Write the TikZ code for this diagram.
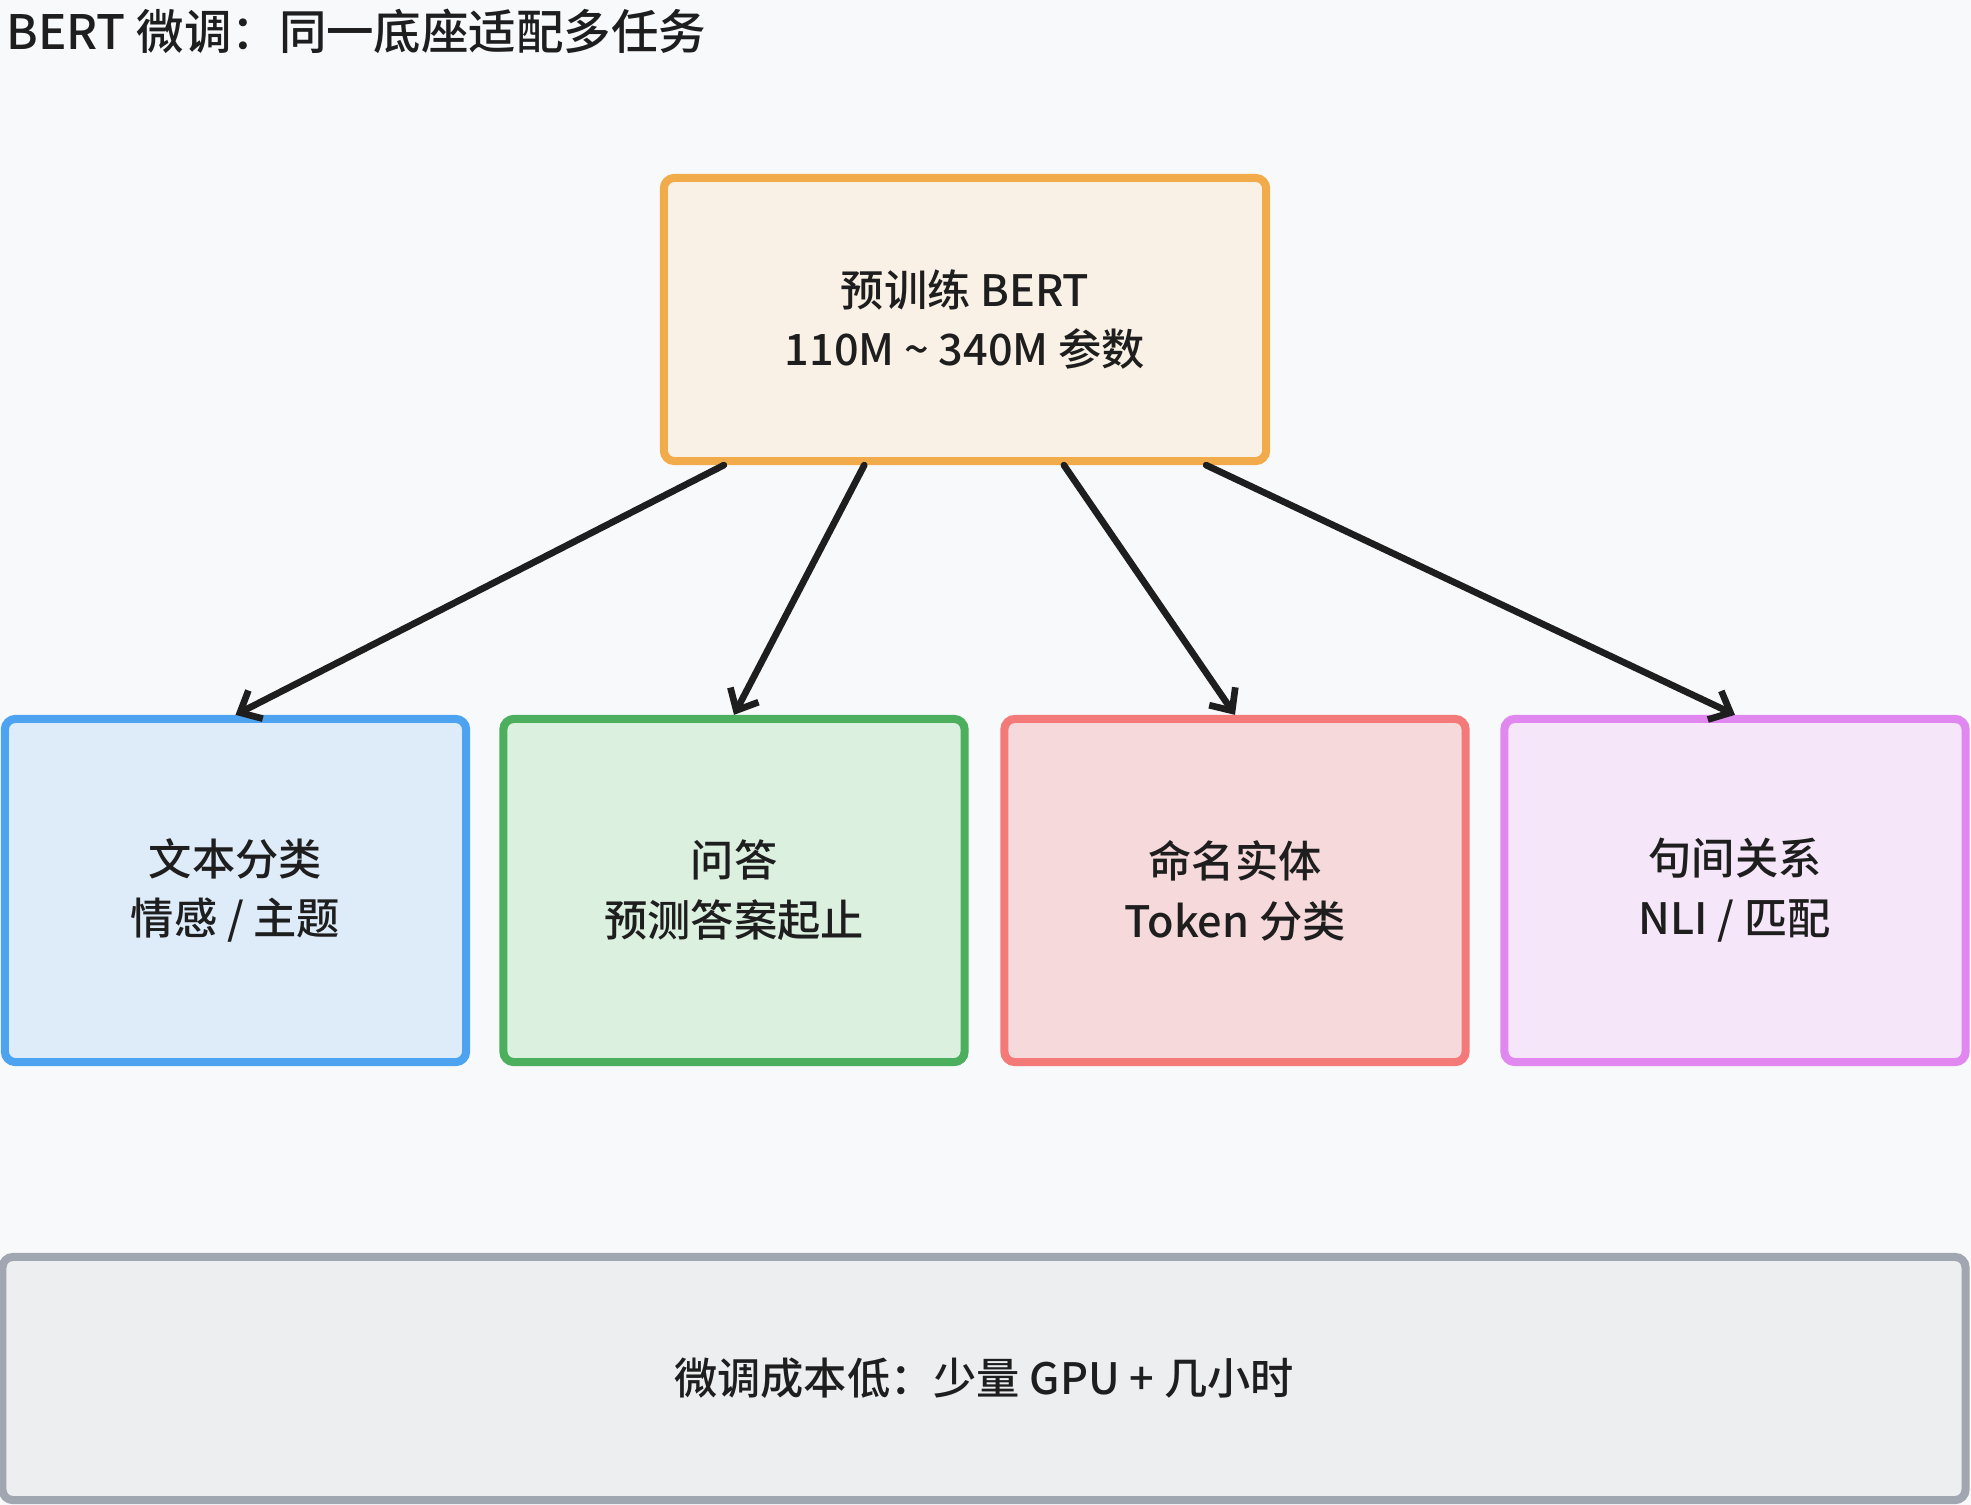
\documentclass[tikz,border=0pt]{standalone}
\usepackage{fontspec}
\setmainfont{Noto Sans CJK SC}[UprightFont={* Medium}]
\usepackage{tikz}
\usetikzlibrary{calc,arrows.meta,positioning}
\definecolor{bgpaper}{HTML}{F8F9FB}
\definecolor{ink}{HTML}{1E1E1E}
\definecolor{orangeline}{HTML}{F2AB4B}
\definecolor{orangefill}{HTML}{FAF1E6}
\definecolor{blueline}{HTML}{4DA3F0}
\definecolor{bluefill}{HTML}{DEECFA}
\definecolor{greenline}{HTML}{4CAF5E}
\definecolor{greenfill}{HTML}{DCF0E0}
\definecolor{redline}{HTML}{F47A7A}
\definecolor{redfill}{HTML}{F6DADB}
\definecolor{purpleline}{HTML}{E087F0}
\definecolor{purplefill}{HTML}{F5E7F9}
\definecolor{grayline}{HTML}{A0A7B1}
\definecolor{grayfill}{HTML}{EDEEF0}
\tikzset{
  card/.style={draw,line width=2.3pt,rounded corners=3pt,align=center,
    inner sep=0pt,font=\fontsize{12.3}{17}\selectfont,text=ink},
  taskcard/.style={card,minimum width=4.61cm,minimum height=3.43cm},
  feed/.style={draw=ink,line width=1.9pt,line cap=round,line join=round,
    -{Straight Barb[length=5pt,width=9pt,line width=1.9pt]}},
  every node/.style={text=ink}
}

\begin{document}
\begin{tikzpicture}[x=0.01cm,y=-0.01cm]
  % --- Canvas ---
  \fill[bgpaper] (0,0) rectangle (1971,1505);
  \useasboundingbox (0,0) rectangle (1971,1505);

  % --- Title ---
  \node[anchor=west,font=\fontsize{13.5}{16}\selectfont] (title) at (-6,31)
    {BERT 微调：同一底座适配多任务};

  % --- Pretrained model ---
  \node[card,draw=orangeline,fill=orangefill,minimum width=6.02cm,
    minimum height=2.83cm] (bert) at (965,319.5)
    {预训练 BERT\\110M \textasciitilde{} 340M 参数};

  % --- Downstream tasks ---
  \node[taskcard,draw=blueline,fill=bluefill] (cls) at (235.5,890.5)
    {文本分类\\情感 / 主题};
  \node[taskcard,draw=greenline,fill=greenfill] (qa) at (734,890.5)
    {问答\\预测答案起止};
  \node[taskcard,draw=redline,fill=redfill] (ner) at (1235,890.5)
    {命名实体\\Token 分类};
  \node[taskcard,draw=purpleline,fill=purplefill] (nli) at (1735,890.5)
    {句间关系\\NLI / 匹配};

  % --- Cost note ---
  \node[card,draw=grayline,fill=grayfill,minimum width=19.62cm,
    minimum height=2.43cm] (cost) at (984,1378.5)
    {微调成本低：少量 GPU + 几小时};

  % --- Fine-tuning arrows ---
  \draw[feed] ($(bert.south west)!0.105!(bert.south east)$) -- (cls.north);
  \draw[feed] ($(bert.south west)!0.335!(bert.south east)$) -- (qa.north);
  \draw[feed] ($(bert.south west)!0.662!(bert.south east)$) -- (ner.north);
  \draw[feed] ($(bert.south west)!0.895!(bert.south east)$) -- (nli.north);

\end{tikzpicture}
\end{document}
